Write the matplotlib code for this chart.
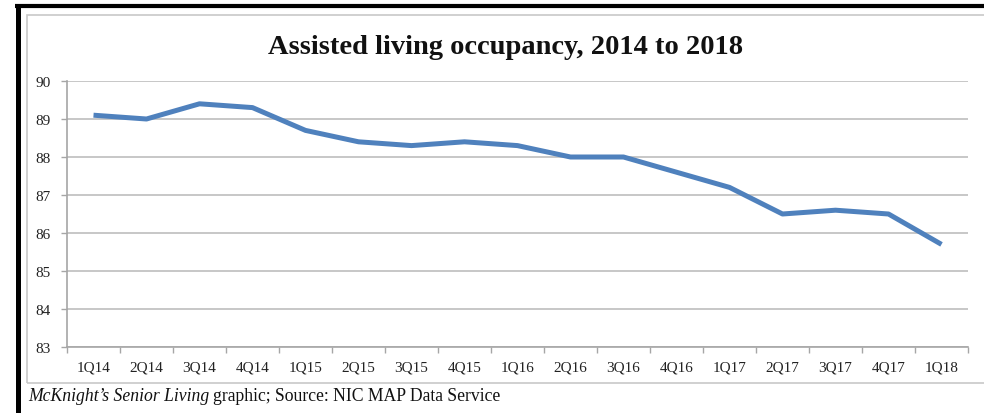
import matplotlib.pyplot as plt
import numpy as np
from matplotlib.patches import Rectangle
from matplotlib.lines import Line2D

# Quarterly occupancy (%)
quarters = ['1Q14', '2Q14', '3Q14', '4Q14', '1Q15', '2Q15', '3Q15', '4Q15', '1Q16',
            '2Q16', '3Q16', '4Q16', '1Q17', '2Q17', '3Q17', '4Q17', '1Q18']
occupancy = [89.1, 89.0, 89.4, 89.3, 88.7, 88.4, 88.3, 88.4, 88.3,
             88.0, 88.0, 87.6, 87.2, 86.5, 86.6, 86.5, 85.7]
y_ticks = [83, 84, 85, 86, 87, 88, 89, 90]

plt.rcParams['font.family'] = ['Liberation Serif', 'DejaVu Serif']

fig = plt.figure(figsize=(9.84, 4.14), dpi=100)
W, H = 984, 414

# Thick black frame on left and top, light gray inner box
fig.add_artist(Line2D([17.5 / W, 17.5 / W], [0, 1 - 5 / H], color='black', lw=3.6,
                      solid_capstyle='butt'))
fig.add_artist(Line2D([15 / W, 1], [1 - 7 / H, 1 - 7 / H], color='black', lw=3.0,
                      solid_capstyle='butt'))
fig.add_artist(Rectangle((27 / W, 1 - 384 / H), 1.0, (384 - 16) / H,
                         transform=fig.transFigure, fill=False,
                         edgecolor='#c8c8c8', lw=1.2))

ax = fig.add_axes([67 / W, 1 - 348 / H, (968 - 67) / W, (348 - 82) / H])
x = np.arange(len(quarters))
ax.plot(x, occupancy, color='#4f81bd', lw=3.6, solid_capstyle='butt',
        solid_joinstyle='round', zorder=3)

ax.set_xlim(-0.5, len(quarters) - 0.5)
ax.set_ylim(83, 90)
ax.set_yticks(y_ticks)
ax.set_xticks(x)
ax.set_xticklabels(quarters)
ax.set_xticks(np.arange(-0.5, len(quarters), 1), minor=True)

ax.grid(axis='y', color='#bdbdbd', lw=1.2)
ax.set_axisbelow(True)
for s in ['top', 'right']:
    ax.spines[s].set_visible(False)
for s in ['left', 'bottom']:
    ax.spines[s].set_color('#a6a6a6')
    ax.spines[s].set_linewidth(1.2)

ax.tick_params(axis='x', which='major', length=0, pad=10, labelsize=11,
               labelcolor='#222222')
ax.tick_params(axis='x', which='minor', length=4, color='#a6a6a6', width=1)
ax.tick_params(axis='y', length=4, color='#a6a6a6', width=1, pad=8,
               labelsize=11, labelcolor='#222222')

fig.text(506 / W, 1 - 47 / H, 'Assisted living occupancy, 2014 to 2018',
         ha='center', va='center', fontsize=20.5, fontweight='bold', color='#111111')

# Caption: italic publication name followed by regular text
fig.canvas.draw()
r = fig.canvas.get_renderer()
t1 = fig.text(28 / W, 1 - 397 / H, 'McKnight\u2019s Senior Living', ha='left',
              va='center', fontsize=12.7, style='italic', color='#111111')
bb = t1.get_window_extent(renderer=r)
fig.text(bb.x1 / W + 4 / W, 1 - 397 / H, 'graphic; Source: NIC MAP Data Service',
         ha='left', va='center', fontsize=12.7, color='#111111')

fig.savefig('out.png', dpi=100)
